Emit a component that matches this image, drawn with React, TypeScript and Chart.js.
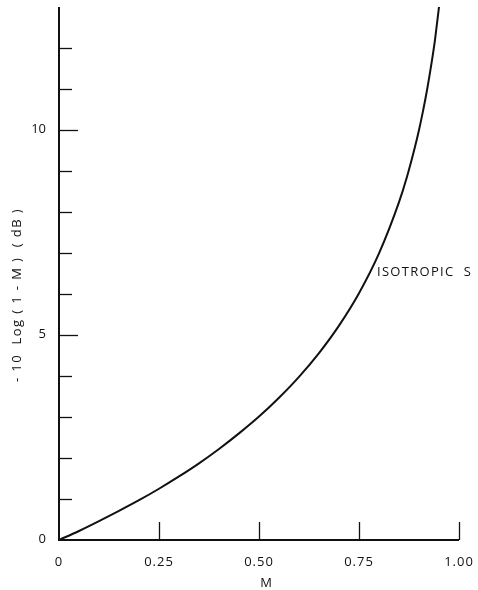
import React, { useEffect, useRef } from "react";
import { Chart, registerables } from "chart.js";

Chart.register(...registerables);

const mValues = [0, 0.05, 0.1, 0.15, 0.2, 0.25, 0.3, 0.35, 0.4, 0.45, 0.5, 0.55, 0.6, 0.65, 0.7, 0.75, 0.8, 0.85, 0.87, 0.89, 0.9, 0.91, 0.92, 0.93, 0.94, 0.945, 0.95];
const dbValues = [0, 0.22, 0.46, 0.71, 0.97, 1.25, 1.55, 1.87, 2.22, 2.6, 3.01, 3.47, 3.98, 4.56, 5.23, 6.02, 6.99, 8.24, 8.86, 9.59, 10.0, 10.46, 10.97, 11.55, 12.2, 12.6, 13.0];

const yTickValues = [1, 2, 3, 4, 5, 6, 7, 8, 9, 10, 11, 12];
const yMajorTicks = [5, 10];
const yTickLabels = ["0", "5", "10"];
const yLabelValues = [0, 5, 10];
const xTickValues = [0.25, 0.5, 0.75, 1.0];
const xTickLabels = ["0", "0.25", "0.50", "0.75", "1.00"];
const xLabelValues = [0, 0.25, 0.5, 0.75, 1.0];

const FONT = '"Open Sans", "DejaVu Sans", sans-serif';

const axesPlugin = {
  id: "customAxes",
  afterDraw(chart: any) {
    const ctx = chart.ctx;
    const xs = chart.scales.x;
    const ys = chart.scales.y;
    const x0 = xs.getPixelForValue(0);
    const y0 = ys.getPixelForValue(0);
    ctx.save();
    ctx.strokeStyle = "#111";
    ctx.fillStyle = "#111";
    ctx.lineWidth = 2;
    ctx.beginPath();
    ctx.moveTo(x0, ys.getPixelForValue(13));
    ctx.lineTo(x0, y0);
    ctx.lineTo(xs.getPixelForValue(1), y0);
    ctx.stroke();

    ctx.lineWidth = 1.3;
    yTickValues.forEach((v) => {
      const py = Math.round(ys.getPixelForValue(v)) + 0.5;
      const len = yMajorTicks.includes(v) ? 19 : 13;
      ctx.beginPath();
      ctx.moveTo(x0, py);
      ctx.lineTo(x0 + len, py);
      ctx.stroke();
    });
    xTickValues.forEach((v) => {
      const px = Math.round(xs.getPixelForValue(v)) + 0.5;
      ctx.beginPath();
      ctx.moveTo(px, y0);
      ctx.lineTo(px, y0 - 18);
      ctx.stroke();
    });

    ctx.font = "13px " + FONT;
    ctx.textAlign = "right";
    ctx.textBaseline = "middle";
    yLabelValues.forEach((v, i) => {
      ctx.fillText(yTickLabels[i], 46, ys.getPixelForValue(v) - 1);
    });
    ctx.textAlign = "center";
    ctx.letterSpacing = "1px";
    xLabelValues.forEach((v, i) => {
      ctx.fillText(xTickLabels[i], xs.getPixelForValue(v), y0 + 22);
    });
    ctx.letterSpacing = "0px";
    ctx.fillText("M", 266, y0 + 43);

    ctx.save();
    ctx.translate(17, 295);
    ctx.rotate(-Math.PI / 2);
    ctx.font = "13px " + FONT;
    ctx.letterSpacing = "1.4px";
    ctx.fillText("- 10  Log ( 1 - M )  ( dB )", 0, 0);
    ctx.restore();

    ctx.textAlign = "left";
    ctx.font = "13px " + FONT;
    ctx.letterSpacing = "1.3px";
    ctx.fillText("ISOTROPIC  S", 377, 272);
    ctx.restore();
  },
};

export default function App() {
  const ref = useRef<HTMLCanvasElement>(null);
  useEffect(() => {
    document.body.style.margin = "0";
    const chart = new Chart(ref.current!, {
      type: "line",
      data: {
        datasets: [
          {
            data: mValues.map((m, i) => ({ x: m, y: dbValues[i] })),
            borderColor: "#111",
            borderWidth: 2,
            pointRadius: 0,
            cubicInterpolationMode: "monotone",
            fill: false,
          },
        ],
      },
      options: {
        animation: false,
        responsive: false,
        layout: { padding: { left: 59, right: 19, top: 7, bottom: 50 } },
        plugins: { legend: { display: false }, tooltip: { enabled: false } },
        scales: {
          x: { type: "linear", min: 0, max: 1, display: false },
          y: { type: "linear", min: 0, max: 13, display: false },
        },
      },
      plugins: [axesPlugin],
    });
    return () => chart.destroy();
  }, []);
  return <canvas ref={ref} width={478} height={590} style={{ display: "block" }} />;
}
